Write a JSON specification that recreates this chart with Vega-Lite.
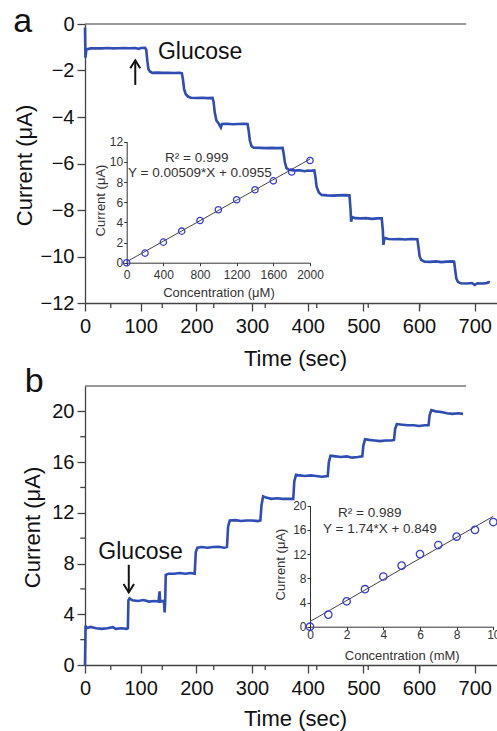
{
  "$schema": "https://vega.github.io/schema/vega-lite/v6.json",
  "width": 497,
  "height": 731,
  "autosize": "none",
  "padding": 0,
  "config": {
    "view": {"stroke": null},
    "axis": {"grid": false, "labelFont": "Liberation Sans", "titleFont": "Liberation Sans", "titleFontWeight": "normal", "labelFlush": false, "labelOverlap": false, "domainColor": "#444", "tickColor": "#444", "labelColor": "#111", "titleColor": "#111", "domainWidth": 1.3, "tickWidth": 1.3},
    "text": {"font": "Liberation Sans"}
  },
  "datasets": {
    "traceA": [
      {"t": 0, "i": -0.15}, {"t": 0.8, "i": -1.45}, {"t": 2.5, "i": -1.1}, {"t": 10, "i": -1.05}, {"t": 20, "i": -1.04}, {"t": 30, "i": -1.05}, {"t": 40, "i": -1.03}, {"t": 50, "i": -1.05}, {"t": 60, "i": -1.04}, {"t": 70, "i": -1.03}, {"t": 80, "i": -1.04}, {"t": 90, "i": -1.03}, {"t": 97, "i": -1.07}, {"t": 100, "i": -1.03}, {"t": 108, "i": -1.02},
      {"t": 110, "i": -1.1}, {"t": 112, "i": -1.6}, {"t": 114, "i": -1.95}, {"t": 117, "i": -2.05}, {"t": 121, "i": -2.1}, {"t": 130, "i": -2.09}, {"t": 140, "i": -2.1}, {"t": 150, "i": -2.1}, {"t": 160, "i": -2.11}, {"t": 170, "i": -2.1}, {"t": 174, "i": -2.12},
      {"t": 176, "i": -2.4}, {"t": 178, "i": -2.8}, {"t": 181, "i": -3.02}, {"t": 185, "i": -3.12}, {"t": 190, "i": -3.17}, {"t": 200, "i": -3.18}, {"t": 210, "i": -3.17}, {"t": 220, "i": -3.19}, {"t": 229, "i": -3.18},
      {"t": 231, "i": -3.35}, {"t": 233, "i": -3.8}, {"t": 236, "i": -4.15}, {"t": 240, "i": -4.28}, {"t": 244, "i": -4.45}, {"t": 246, "i": -4.3}, {"t": 255, "i": -4.29}, {"t": 265, "i": -4.31}, {"t": 275, "i": -4.3}, {"t": 285, "i": -4.29}, {"t": 292, "i": -4.3},
      {"t": 294, "i": -4.6}, {"t": 296, "i": -5.0}, {"t": 299, "i": -5.25}, {"t": 303, "i": -5.32}, {"t": 315, "i": -5.33}, {"t": 325, "i": -5.34}, {"t": 335, "i": -5.33}, {"t": 345, "i": -5.34}, {"t": 355, "i": -5.33},
      {"t": 357, "i": -5.6}, {"t": 359, "i": -5.95}, {"t": 362, "i": -6.2}, {"t": 366, "i": -6.27}, {"t": 375, "i": -6.3}, {"t": 385, "i": -6.29}, {"t": 395, "i": -6.33}, {"t": 400, "i": -6.3}, {"t": 405, "i": -6.31}, {"t": 412, "i": -6.3},
      {"t": 414, "i": -6.6}, {"t": 416, "i": -7.0}, {"t": 420, "i": -7.25}, {"t": 425, "i": -7.35}, {"t": 435, "i": -7.37}, {"t": 445, "i": -7.38}, {"t": 455, "i": -7.37}, {"t": 465, "i": -7.36}, {"t": 475, "i": -7.37},
      {"t": 477, "i": -8.0}, {"t": 478, "i": -8.5}, {"t": 480, "i": -8.3}, {"t": 485, "i": -8.35}, {"t": 495, "i": -8.36}, {"t": 505, "i": -8.35}, {"t": 515, "i": -8.38}, {"t": 525, "i": -8.36}, {"t": 533, "i": -8.36},
      {"t": 535, "i": -8.9}, {"t": 536, "i": -9.5}, {"t": 538, "i": -9.2}, {"t": 545, "i": -9.25}, {"t": 555, "i": -9.26}, {"t": 565, "i": -9.25}, {"t": 575, "i": -9.27}, {"t": 585, "i": -9.25}, {"t": 597, "i": -9.26},
      {"t": 599, "i": -9.6}, {"t": 601, "i": -10.0}, {"t": 604, "i": -10.15}, {"t": 610, "i": -10.22}, {"t": 620, "i": -10.23}, {"t": 630, "i": -10.21}, {"t": 640, "i": -10.24}, {"t": 650, "i": -10.22}, {"t": 660, "i": -10.21}, {"t": 663, "i": -10.22},
      {"t": 665, "i": -10.6}, {"t": 667, "i": -10.95}, {"t": 670, "i": -11.1}, {"t": 675, "i": -11.15}, {"t": 685, "i": -11.16}, {"t": 695, "i": -11.14}, {"t": 700, "i": -11.22}, {"t": 705, "i": -11.15}, {"t": 715, "i": -11.16}, {"t": 722, "i": -11.14}, {"t": 725, "i": -11.1}, {"t": 727, "i": -11.12}
    ],
    "traceB": [
      {"t": 0, "i": 0.0}, {"t": 1, "i": 3.1}, {"t": 3, "i": 2.9}, {"t": 10, "i": 3.0}, {"t": 20, "i": 2.9}, {"t": 30, "i": 2.85}, {"t": 40, "i": 2.9}, {"t": 50, "i": 2.98}, {"t": 55, "i": 2.85}, {"t": 65, "i": 2.9}, {"t": 75, "i": 2.85}, {"t": 77, "i": 2.9},
      {"t": 78, "i": 5.1}, {"t": 80, "i": 5.25}, {"t": 85, "i": 5.1}, {"t": 95, "i": 5.05}, {"t": 105, "i": 5.12}, {"t": 115, "i": 5.0}, {"t": 125, "i": 5.05}, {"t": 132, "i": 5.0}, {"t": 134, "i": 5.8}, {"t": 135, "i": 5.0}, {"t": 140, "i": 5.05}, {"t": 142, "i": 4.9}, {"t": 143, "i": 4.15}, {"t": 144, "i": 5.0},
      {"t": 145, "i": 7.1}, {"t": 150, "i": 7.2}, {"t": 160, "i": 7.2}, {"t": 170, "i": 7.25}, {"t": 180, "i": 7.2}, {"t": 190, "i": 7.25}, {"t": 197, "i": 7.2},
      {"t": 199, "i": 8.9}, {"t": 202, "i": 9.25}, {"t": 210, "i": 9.3}, {"t": 220, "i": 9.25}, {"t": 230, "i": 9.3}, {"t": 240, "i": 9.32}, {"t": 250, "i": 9.25}, {"t": 255, "i": 9.3},
      {"t": 257, "i": 10.9}, {"t": 260, "i": 11.4}, {"t": 270, "i": 11.42}, {"t": 280, "i": 11.35}, {"t": 290, "i": 11.4}, {"t": 300, "i": 11.4}, {"t": 310, "i": 11.35}, {"t": 315, "i": 11.4},
      {"t": 317, "i": 12.6}, {"t": 320, "i": 13.3}, {"t": 325, "i": 13.2}, {"t": 335, "i": 13.1}, {"t": 345, "i": 13.15}, {"t": 355, "i": 13.1}, {"t": 365, "i": 13.1}, {"t": 374, "i": 13.1},
      {"t": 376, "i": 14.5}, {"t": 379, "i": 15.0}, {"t": 385, "i": 14.95}, {"t": 395, "i": 14.9}, {"t": 405, "i": 14.95}, {"t": 415, "i": 14.9}, {"t": 425, "i": 14.85}, {"t": 436, "i": 14.9},
      {"t": 438, "i": 16.0}, {"t": 441, "i": 16.5}, {"t": 450, "i": 16.45}, {"t": 460, "i": 16.4}, {"t": 470, "i": 16.45}, {"t": 480, "i": 16.35}, {"t": 490, "i": 16.4}, {"t": 498, "i": 16.45},
      {"t": 500, "i": 17.3}, {"t": 503, "i": 17.8}, {"t": 510, "i": 17.75}, {"t": 520, "i": 17.7}, {"t": 530, "i": 17.65}, {"t": 540, "i": 17.7}, {"t": 550, "i": 17.7}, {"t": 555, "i": 17.75},
      {"t": 557, "i": 18.6}, {"t": 560, "i": 19.0}, {"t": 570, "i": 18.95}, {"t": 580, "i": 18.9}, {"t": 590, "i": 18.9}, {"t": 600, "i": 18.85}, {"t": 610, "i": 18.9}, {"t": 617, "i": 18.9},
      {"t": 619, "i": 19.7}, {"t": 622, "i": 20.1}, {"t": 630, "i": 20.0}, {"t": 640, "i": 19.95}, {"t": 650, "i": 19.85}, {"t": 660, "i": 19.8}, {"t": 670, "i": 19.85}, {"t": 679, "i": 19.8}
    ],
    "calA": [
      {"c": 0, "i": 0}, {"c": 200, "i": 0.95}, {"c": 400, "i": 2.04}, {"c": 600, "i": 3.13}, {"c": 800, "i": 4.19}, {"c": 1000, "i": 5.25}, {"c": 1200, "i": 6.24}, {"c": 1400, "i": 7.23}, {"c": 1600, "i": 8.12}, {"c": 1800, "i": 9.0}, {"c": 2000, "i": 10.13}
    ],
    "fitA": [{"c": 0, "i": 0.0955}, {"c": 2000, "i": 10.2755}],
    "calB": [
      {"c": 0, "i": 0}, {"c": 1, "i": 2.0}, {"c": 2, "i": 4.2}, {"c": 3, "i": 6.2}, {"c": 4, "i": 8.3}, {"c": 5, "i": 10.1}, {"c": 6, "i": 12.0}, {"c": 7, "i": 13.5}, {"c": 8, "i": 14.9}, {"c": 9, "i": 16.0}, {"c": 10, "i": 17.3}
    ],
    "fitB": [{"c": 0, "i": 0.849}, {"c": 10, "i": 18.249}],
    "arrowA": [{"t": 97.6, "from": -2.62, "to": -1.56}],
    "arrowB": [{"t": 85, "from": 7.9, "to": 5.72}],
    "minorT": [{"t": 50}, {"t": 150}, {"t": 250}, {"t": 350}, {"t": 450}, {"t": 550}, {"t": 650}],
    "minorIB": [{"i": 2}, {"i": 6}, {"i": 10}, {"i": 14}, {"i": 18}]
  },
  "layer": [
    {
      "data": {"name": "traceA"},
      "mark": {"type": "line", "color": "#2f4db3", "strokeWidth": 2.6},
      "encoding": {
        "x": {"field": "t", "type": "quantitative", "scale": {"domain": [0, 740], "range": [85, 497]},
          "axis": {"orient": "bottom", "offset": -428, "values": [0, 100, 200, 300, 400, 500, 600, 700], "tickSize": 8, "labelFontSize": 20, "labelPadding": 5, "title": "Time (sec)", "titleFontSize": 22, "titleX": 295, "titleY": 62, "titleBaseline": "alphabetic"}},
        "y": {"field": "i", "type": "quantitative", "scale": {"domain": [-12, 0], "range": [303, 24]},
          "axis": {"orient": "left", "offset": -85, "values": [-12, -10, -8, -6, -4, -2, 0], "tickSize": 8, "labelFontSize": 20, "labelPadding": 3, "title": "Current (μA)", "titleFontSize": 22, "titleX": -54, "titleY": 165, "titleBaseline": "alphabetic"}}
      }
    },
    {
      "layer": [
        {
          "data": {"name": "arrowA"},
          "mark": {"type": "rule", "color": "#111", "strokeWidth": 2},
          "encoding": {
            "x": {"field": "t", "type": "quantitative", "scale": {"domain": [0, 740], "range": [85, 497]}, "axis": null},
            "y": {"field": "from", "type": "quantitative", "scale": {"domain": [-12, 0], "range": [303, 24]}, "axis": null},
            "y2": {"field": "to"}
          }
        },
        {
          "data": {"name": "arrowA"},
          "mark": {"type": "point", "shape": "M-1,1.6L0,0L1,1.6", "filled": false, "size": 100, "stroke": "#111", "strokeWidth": 2, "opacity": 1},
          "encoding": {
            "x": {"field": "t", "type": "quantitative", "axis": null},
            "y": {"field": "to", "type": "quantitative", "axis": null}
          }
        },
        {
          "data": {"values": [{}]},
          "mark": {"type": "rule", "color": "#777", "strokeWidth": 1.3},
          "encoding": {"x": {"datum": 0, "axis": null}, "x2": {"datum": 740}, "y": {"datum": 0, "axis": null}}
        },
        {
          "data": {"name": "minorT"},
          "mark": {"type": "tick", "orient": "vertical", "color": "#444", "size": 5, "thickness": 1.3, "yOffset": 2.5, "opacity": 1},
          "encoding": {"x": {"field": "t", "type": "quantitative", "axis": null}, "y": {"datum": -12, "axis": null}}
        }
      ]
    },
    {
      "data": {"values": [{}]},
      "mark": {"type": "text", "text": "Glucose", "fontSize": 23, "align": "left", "baseline": "alphabetic", "color": "#111"},
      "encoding": {"x": {"datum": 131, "scale": {"domain": [0, 740], "range": [85, 497]}, "axis": null}, "y": {"datum": -1.505, "scale": {"domain": [-12, 0], "range": [303, 24]}, "axis": null}}
    },
    {
      "data": {"values": [{}]},
      "mark": {"type": "text", "text": "a", "fontSize": 34, "align": "left", "baseline": "alphabetic", "color": "#111"},
      "encoding": {"x": {"datum": -129, "scale": {"domain": [0, 740], "range": [85, 497]}, "axis": null}, "y": {"datum": -0.34, "scale": {"domain": [-12, 0], "range": [303, 24]}, "axis": null}}
    },
    {
      "data": {"name": "fitA"},
      "mark": {"type": "line", "color": "#444", "strokeWidth": 1},
      "encoding": {
        "x": {"field": "c", "type": "quantitative", "scale": {"domain": [0, 2000], "range": [126.7, 310]},
          "axis": {"orient": "bottom", "offset": -468.3, "values": [0, 400, 800, 1200, 1600, 2000], "format": "d", "tickSize": 3, "labelFontSize": 12, "labelPadding": 4, "labelColor": "#333", "domainColor": "#333", "tickColor": "#333", "domainWidth": 1, "tickWidth": 1, "title": "Concentration (μM)", "titleFontSize": 13, "titleColor": "#333", "titleX": 218.5, "titleY": 34, "titleBaseline": "alphabetic"}},
        "y": {"field": "i", "type": "quantitative", "scale": {"domain": [0, 12], "range": [262.7, 141.7]},
          "axis": {"orient": "left", "offset": -126.7, "values": [0, 2, 4, 6, 8, 10, 12], "tickSize": 3, "labelFontSize": 12, "labelPadding": 1, "labelColor": "#333", "domainColor": "#333", "tickColor": "#333", "domainWidth": 1, "tickWidth": 1, "title": "Current (μA)", "titleFontSize": 13, "titleColor": "#333", "titleX": -22.4, "titleY": 200, "titleBaseline": "alphabetic"}}
      }
    },
    {
      "data": {"name": "calA"},
      "mark": {"type": "point", "shape": "circle", "filled": false, "color": "#3b3bd6", "size": 40, "strokeWidth": 1.3, "opacity": 1},
      "encoding": {"x": {"field": "c", "type": "quantitative", "scale": {"domain": [0, 2000], "range": [126.7, 310]}, "axis": null}, "y": {"field": "i", "type": "quantitative", "scale": {"domain": [0, 12], "range": [262.7, 141.7]}, "axis": null}}
    },
    {
      "data": {"values": [{}]},
      "mark": {"type": "text", "text": "R² = 0.999", "fontSize": 13.5, "align": "left", "baseline": "alphabetic", "color": "#333"},
      "encoding": {"x": {"datum": 418, "scale": {"domain": [0, 2000], "range": [126.7, 310]}, "axis": null}, "y": {"datum": 9.99, "scale": {"domain": [0, 12], "range": [262.7, 141.7]}, "axis": null}}
    },
    {
      "data": {"values": [{}]},
      "mark": {"type": "text", "text": "Y = 0.00509*X + 0.0955", "fontSize": 13.5, "align": "left", "baseline": "alphabetic", "color": "#333"},
      "encoding": {"x": {"datum": 14, "scale": {"domain": [0, 2000], "range": [126.7, 310]}, "axis": null}, "y": {"datum": 8.53, "scale": {"domain": [0, 12], "range": [262.7, 141.7]}, "axis": null}}
    },
    {
      "data": {"name": "traceB"},
      "mark": {"type": "line", "color": "#2f4db3", "strokeWidth": 2.6},
      "encoding": {
        "x": {"field": "t", "type": "quantitative", "scale": {"domain": [0, 740], "range": [85, 497]},
          "axis": {"orient": "bottom", "offset": -66, "values": [0, 100, 200, 300, 400, 500, 600, 700], "tickSize": 8, "labelFontSize": 20, "labelPadding": 5, "title": "Time (sec)", "titleFontSize": 22, "titleX": 295, "titleY": 60, "titleBaseline": "alphabetic"}},
        "y": {"field": "i", "type": "quantitative", "scale": {"domain": [0, 22], "range": [665, 386]},
          "axis": {"orient": "left", "offset": -85, "values": [0, 4, 8, 12, 16, 20], "tickSize": 8, "labelFontSize": 20, "labelPadding": 3, "title": "Current (μA)", "titleFontSize": 22, "titleX": -46, "titleY": 527, "titleBaseline": "alphabetic"}}
      }
    },
    {
      "layer": [
        {
          "data": {"name": "arrowB"},
          "mark": {"type": "rule", "color": "#111", "strokeWidth": 2},
          "encoding": {
            "x": {"field": "t", "type": "quantitative", "scale": {"domain": [0, 740], "range": [85, 497]}, "axis": null},
            "y": {"field": "from", "type": "quantitative", "scale": {"domain": [0, 22], "range": [665, 386]}, "axis": null},
            "y2": {"field": "to"}
          }
        },
        {
          "data": {"name": "arrowB"},
          "mark": {"type": "point", "shape": "M-1,-1.6L0,0L1,-1.6", "filled": false, "size": 110, "stroke": "#111", "strokeWidth": 2, "opacity": 1},
          "encoding": {
            "x": {"field": "t", "type": "quantitative", "axis": null},
            "y": {"field": "to", "type": "quantitative", "axis": null}
          }
        },
        {
          "data": {"values": [{}]},
          "mark": {"type": "rule", "color": "#777", "strokeWidth": 1.3},
          "encoding": {"x": {"datum": 0, "axis": null}, "x2": {"datum": 740}, "y": {"datum": 22, "axis": null}}
        },
        {
          "data": {"name": "minorT"},
          "mark": {"type": "tick", "orient": "vertical", "color": "#444", "size": 5, "thickness": 1.3, "yOffset": 2.5, "opacity": 1},
          "encoding": {"x": {"field": "t", "type": "quantitative", "axis": null}, "y": {"datum": 0, "axis": null}}
        },
        {
          "data": {"name": "minorIB"},
          "mark": {"type": "tick", "orient": "horizontal", "color": "#444", "size": 5, "thickness": 1.3, "xOffset": -2.5, "opacity": 1},
          "encoding": {"x": {"datum": 0.5, "axis": null}, "y": {"field": "i", "type": "quantitative", "axis": null}}
        }
      ]
    },
    {
      "data": {"values": [{}]},
      "mark": {"type": "text", "text": "Glucose", "fontSize": 23, "align": "left", "baseline": "alphabetic", "color": "#111"},
      "encoding": {"x": {"datum": 24, "scale": {"domain": [0, 740], "range": [85, 497]}, "axis": null}, "y": {"datum": 8.36, "scale": {"domain": [0, 22], "range": [665, 386]}, "axis": null}}
    },
    {
      "data": {"values": [{}]},
      "mark": {"type": "text", "text": "b", "fontSize": 34, "align": "left", "baseline": "alphabetic", "color": "#111"},
      "encoding": {"x": {"datum": -108, "scale": {"domain": [0, 740], "range": [85, 497]}, "axis": null}, "y": {"datum": 21.5, "scale": {"domain": [0, 22], "range": [665, 386]}, "axis": null}}
    },
    {
      "data": {"name": "fitB"},
      "mark": {"type": "line", "color": "#444", "strokeWidth": 1},
      "encoding": {
        "x": {"field": "c", "type": "quantitative", "scale": {"domain": [0, 10], "range": [310, 493.3]},
          "axis": {"orient": "bottom", "offset": -104.3, "values": [0, 2, 4, 6, 8, 10], "tickSize": 3, "labelFontSize": 12, "labelPadding": 0, "labelColor": "#333", "domainColor": "#333", "tickColor": "#333", "domainWidth": 1, "tickWidth": 1, "title": "Concentration (mM)", "titleFontSize": 13, "titleColor": "#333", "titleX": 401.7, "titleY": 33, "titleBaseline": "alphabetic"}},
        "y": {"field": "i", "type": "quantitative", "scale": {"domain": [0, 20], "range": [626.7, 505.7]},
          "axis": {"orient": "left", "offset": -310, "values": [0, 4, 8, 12, 16, 20], "tickSize": 3, "labelFontSize": 12, "labelPadding": 1, "labelColor": "#333", "domainColor": "#333", "tickColor": "#333", "domainWidth": 1, "tickWidth": 1, "title": "Current (μA)", "titleFontSize": 13, "titleColor": "#333", "titleX": -25.7, "titleY": 564, "titleBaseline": "alphabetic"}}
      }
    },
    {
      "data": {"name": "calB"},
      "mark": {"type": "point", "shape": "circle", "filled": false, "color": "#3b3bd6", "size": 55, "strokeWidth": 1.3, "opacity": 1},
      "encoding": {"x": {"field": "c", "type": "quantitative", "scale": {"domain": [0, 10], "range": [310, 493.3]}, "axis": null}, "y": {"field": "i", "type": "quantitative", "scale": {"domain": [0, 20], "range": [626.7, 505.7]}, "axis": null}}
    },
    {
      "data": {"values": [{}]},
      "mark": {"type": "text", "text": "R² = 0.989", "fontSize": 13.5, "align": "left", "baseline": "alphabetic", "color": "#333"},
      "encoding": {"x": {"datum": 1.53, "scale": {"domain": [0, 10], "range": [310, 493.3]}, "axis": null}, "y": {"datum": 18.2, "scale": {"domain": [0, 20], "range": [626.7, 505.7]}, "axis": null}}
    },
    {
      "data": {"values": [{}]},
      "mark": {"type": "text", "text": "Y = 1.74*X + 0.849", "fontSize": 13.5, "align": "left", "baseline": "alphabetic", "color": "#333"},
      "encoding": {"x": {"datum": 0.71, "scale": {"domain": [0, 10], "range": [310, 493.3]}, "axis": null}, "y": {"datum": 15.5, "scale": {"domain": [0, 20], "range": [626.7, 505.7]}, "axis": null}}
    }
  ],
  "resolve": {"scale": {"x": "independent", "y": "independent"}, "axis": {"x": "independent", "y": "independent"}}
}
